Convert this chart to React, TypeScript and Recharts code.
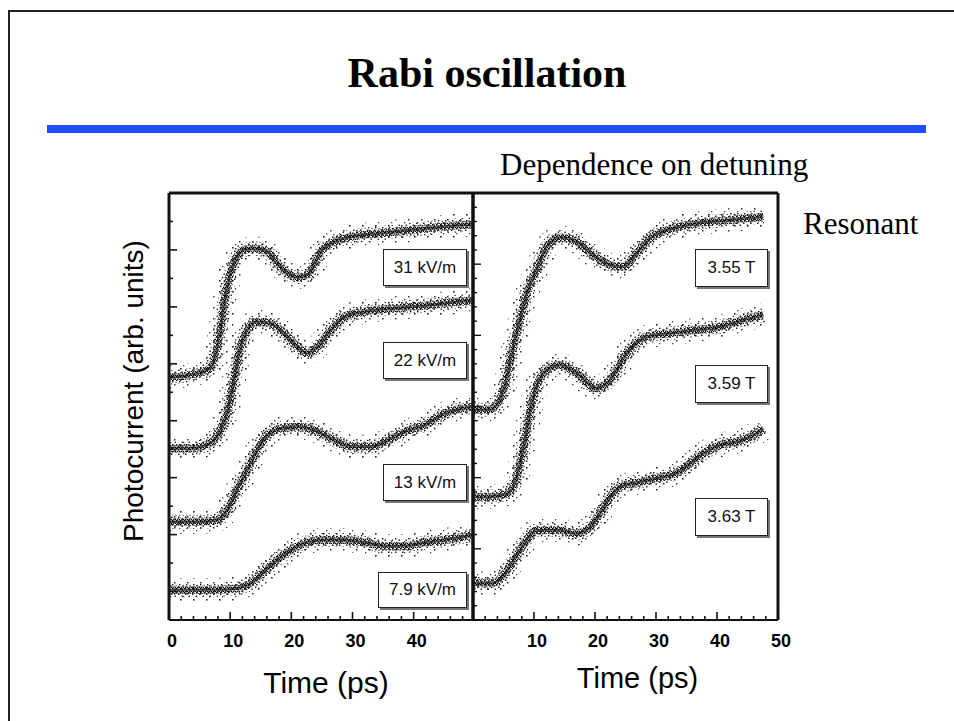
import React from 'react';
import { ComposedChart, Line, XAxis, YAxis } from 'recharts';

// ---------- data (time in ps, photocurrent in arb. units) ----------
const leftTicksX = [0, 2, 4, 6, 8, 10, 12, 14, 16, 18, 20, 22, 24, 26, 28, 30, 32, 34, 36, 38, 40, 42, 44, 46, 48];
const rightTicksX = [0, 2, 4, 6, 8, 10, 12, 14, 16, 18, 20, 22, 24, 26, 28, 30, 32, 34, 36, 38, 40, 42, 44, 46, 48, 50];
const leftLabelsX = [0, 10, 20, 30, 40];
const rightLabelsX = [10, 20, 30, 40, 50];
const leftTicksY = [1, 2, 3, 4, 5, 6, 7, 8, 9, 10, 11, 12, 13, 14];
const rightTicksY = [0.5, 1, 1.5, 2, 2.5, 3, 3.5, 4, 4.5, 5, 5.5, 6, 6.5, 7, 7.5, 8, 8.5, 9, 9.5, 10, 10.5, 11, 11.5, 12, 12.5, 13, 13.5, 14, 14.5];

const trace31kV = [
  { t: 0, v: 8.52 }, { t: 3.5, v: 8.61 }, { t: 6.7, v: 8.84 }, { t: 8.4, v: 10.19 }, { t: 9.2, v: 11.36 },
  { t: 10.0, v: 12.18 }, { t: 11.1, v: 12.76 }, { t: 12.2, v: 13.0 }, { t: 13.9, v: 13.05 }, { t: 16.1, v: 12.94 },
  { t: 17.7, v: 12.53 }, { t: 19.4, v: 12.18 }, { t: 21.0, v: 12.04 }, { t: 22.6, v: 12.12 }, { t: 23.7, v: 12.47 },
  { t: 24.8, v: 12.94 }, { t: 26.5, v: 13.23 }, { t: 28.7, v: 13.41 }, { t: 31.4, v: 13.52 }, { t: 34.2, v: 13.58 },
  { t: 39.6, v: 13.7 }, { t: 45.1, v: 13.82 }, { t: 49.6, v: 13.9 },
];
const trace22kV = [
  { t: 0, v: 6.03 }, { t: 3.5, v: 6.03 }, { t: 6.7, v: 6.21 }, { t: 8.4, v: 6.67 }, { t: 9.5, v: 7.26 },
  { t: 10.6, v: 8.43 }, { t: 11.7, v: 9.6 }, { t: 12.8, v: 10.19 }, { t: 14.4, v: 10.48 }, { t: 16.6, v: 10.42 },
  { t: 18.8, v: 10.07 }, { t: 21.0, v: 9.6 }, { t: 22.6, v: 9.37 }, { t: 24.3, v: 9.6 }, { t: 26.5, v: 10.19 },
  { t: 28.7, v: 10.65 }, { t: 32.0, v: 10.83 }, { t: 36.9, v: 10.95 }, { t: 42.4, v: 11.06 }, { t: 49.6, v: 11.24 },
];
const trace13kV = [
  { t: 0, v: 3.45 }, { t: 4.6, v: 3.45 }, { t: 7.8, v: 3.51 }, { t: 9.5, v: 3.86 }, { t: 11.1, v: 4.57 },
  { t: 12.8, v: 5.27 }, { t: 14.4, v: 5.97 }, { t: 16.1, v: 6.5 }, { t: 18.3, v: 6.73 }, { t: 21.0, v: 6.79 },
  { t: 23.7, v: 6.67 }, { t: 26.5, v: 6.38 }, { t: 29.8, v: 6.09 }, { t: 33.1, v: 6.09 }, { t: 35.8, v: 6.32 },
  { t: 38.5, v: 6.61 }, { t: 41.8, v: 6.85 }, { t: 45.1, v: 7.26 }, { t: 49.6, v: 7.49 },
];
const trace7_9kV = [
  { t: 0, v: 1.05 }, { t: 6.7, v: 1.05 }, { t: 11.1, v: 1.11 }, { t: 13.3, v: 1.29 }, { t: 15.5, v: 1.7 },
  { t: 17.7, v: 2.11 }, { t: 19.9, v: 2.46 }, { t: 22.1, v: 2.69 }, { t: 24.8, v: 2.81 }, { t: 28.7, v: 2.81 },
  { t: 32.0, v: 2.72 }, { t: 35.3, v: 2.6 }, { t: 38.5, v: 2.6 }, { t: 41.8, v: 2.72 }, { t: 45.1, v: 2.81 },
  { t: 49.6, v: 2.99 },
];
const trace355T = [
  { t: 0, v: 7.38 }, { t: 2.8, v: 7.4 }, { t: 5.0, v: 8.08 }, { t: 6.6, v: 9.6 }, { t: 7.7, v: 10.54 },
  { t: 8.8, v: 11.47 }, { t: 10.4, v: 12.29 }, { t: 12.1, v: 13.11 }, { t: 14.3, v: 13.44 }, { t: 17.0, v: 13.29 },
  { t: 19.7, v: 12.82 }, { t: 22.5, v: 12.47 }, { t: 24.6, v: 12.41 }, { t: 26.8, v: 12.88 }, { t: 29.0, v: 13.41 },
  { t: 31.8, v: 13.7 }, { t: 35.0, v: 13.87 }, { t: 38.9, v: 13.99 }, { t: 43.2, v: 14.07 }, { t: 47.6, v: 14.17 },
];
const trace359T = [
  { t: 0, v: 4.33 }, { t: 2.8, v: 4.33 }, { t: 5.5, v: 4.43 }, { t: 7.2, v: 5.03 }, { t: 8.3, v: 6.09 },
  { t: 9.3, v: 7.26 }, { t: 10.4, v: 8.2 }, { t: 12.1, v: 8.78 }, { t: 14.3, v: 8.96 }, { t: 17.0, v: 8.67 },
  { t: 20.3, v: 8.14 }, { t: 22.5, v: 8.43 }, { t: 25.2, v: 9.37 }, { t: 28.5, v: 9.95 }, { t: 32.3, v: 10.07 },
  { t: 36.7, v: 10.19 }, { t: 40.5, v: 10.3 }, { t: 44.3, v: 10.54 }, { t: 47.6, v: 10.71 },
];
const trace363T = [
  { t: 0, v: 1.29 }, { t: 3.3, v: 1.29 }, { t: 5.0, v: 1.58 }, { t: 7.2, v: 2.28 }, { t: 8.8, v: 2.81 },
  { t: 10.4, v: 3.14 }, { t: 13.7, v: 3.16 }, { t: 17.0, v: 3.04 }, { t: 19.2, v: 3.26 }, { t: 20.8, v: 3.75 },
  { t: 22.5, v: 4.33 }, { t: 24.1, v: 4.68 }, { t: 26.8, v: 4.82 }, { t: 30.1, v: 4.98 }, { t: 33.4, v: 5.17 },
  { t: 35.6, v: 5.5 }, { t: 37.8, v: 5.85 }, { t: 40.5, v: 6.15 }, { t: 43.2, v: 6.26 }, { t: 46.0, v: 6.5 },
  { t: 47.6, v: 6.73 },
];

const leftSeries = [trace31kV, trace22kV, trace13kV, trace7_9kV];
const rightSeries = [trace355T, trace359T, trace363T];
const leftBoxLabels = ['31 kV/m', '22 kV/m', '13 kV/m', '7.9 kV/m'];
const rightBoxLabels = ['3.55 T', '3.59 T', '3.63 T'];

// ---------- styles ----------
const SANS = "'Liberation Sans', Arial, Helvetica, sans-serif";
const SERIF = "'Liberation Serif', 'Times New Roman', serif";
const INK = '#111';

const leftBoxes = [
  { x: 383, y: 249, w: 84, h: 37 },
  { x: 383, y: 342, w: 84, h: 37 },
  { x: 383, y: 464, w: 84, h: 37 },
  { x: 378, y: 572, w: 89, h: 36 },
];
const rightBoxes = [
  { x: 695, y: 249, w: 73, h: 38 },
  { x: 695, y: 365, w: 73, h: 38 },
  { x: 695, y: 498, w: 73, h: 38 },
];

const makeXTick = (labels: number[]) => (props: any) => {
  const { x, y, payload } = props;
  const v = payload.value;
  const major = v % 10 === 0;
  return (
    <g>
      <line x1={x} x2={x} y1={y} y2={y - (major ? 8 : 4)} stroke={INK} strokeWidth={1.6} />
      {labels.includes(v) && (
        <text x={x + 3} y={y + 27} textAnchor="middle" fontSize={18} fontWeight="bold" fontFamily={SANS} fill="#000">
          {v}
        </text>
      )}
    </g>
  );
};

const LeftYTick = (props: any) => {
  const { x, y, payload } = props;
  const major = payload.value % 2 === 1;
  return <line x1={x} x2={x + (major ? 8 : 4)} y1={y} y2={y} stroke={INK} strokeWidth={1.6} />;
};

const RightPanelYTick = (props: any) => {
  const { x, y, payload } = props;
  const major = payload.value % 2.5 === 0;
  return <line x1={x} x2={x + (major ? 8 : 4)} y1={y} y2={y} stroke={INK} strokeWidth={1.4} />;
};

const Defs = ({ p }: { p: string }) => (
  <defs>
    <pattern id={`${p}-dense`} width="4" height="4" patternUnits="userSpaceOnUse">
      <rect x="0" y="0" width="1.6" height="1.6" fill="#000" />
      <rect x="2" y="1.2" width="1.4" height="1.4" fill="#111" />
      <rect x="0.8" y="2.6" width="1.4" height="1.4" fill="#222" />
      <rect x="2.8" y="3" width="1.2" height="1" fill="#000" />
    </pattern>
    <pattern id={`${p}-sparse`} width="7" height="7" patternUnits="userSpaceOnUse">
      <rect x="1" y="0.5" width="1.5" height="1.5" fill="#222" />
      <rect x="4.5" y="2.5" width="1.5" height="1.5" fill="#333" />
      <rect x="2" y="5" width="1.4" height="1.4" fill="#111" />
      <rect x="5.5" y="5.8" width="1.2" height="1.2" fill="#444" />
    </pattern>
    <pattern id={`${p}-halo`} width="13" height="11" patternUnits="userSpaceOnUse">
      <rect x="2" y="1" width="1.6" height="1.6" fill="#222" />
      <rect x="9" y="6" width="1.5" height="1.5" fill="#333" />
      <rect x="5" y="9" width="1.3" height="1.3" fill="#444" />
    </pattern>
  </defs>
);

const renderTraceLayers = (series: { t: number; v: number }[][], p: string) =>
  series.flatMap((d, i) => [
    <Line key={`${p}-h${i}`} xAxisId="b" yAxisId="l" data={d} dataKey="v" type="monotone" dot={false}
      activeDot={false} stroke={`url(#${p}-halo)`} strokeWidth={24} isAnimationActive={false} />,
    <Line key={`${p}-s${i}`} xAxisId="b" yAxisId="l" data={d} dataKey="v" type="monotone" dot={false}
      activeDot={false} stroke={`url(#${p}-sparse)`} strokeWidth={14} isAnimationActive={false} />,
    <Line key={`${p}-d${i}`} xAxisId="b" yAxisId="l" data={d} dataKey="v" type="monotone" dot={false}
      activeDot={false} stroke={`url(#${p}-dense)`} strokeWidth={8} isAnimationActive={false} />,
    <Line key={`${p}-c${i}`} xAxisId="b" yAxisId="l" data={d} dataKey="v" type="monotone" dot={false}
      activeDot={false} stroke="#000" strokeOpacity={0.5} strokeWidth={3} isAnimationActive={false} />,
  ]);

const Box = ({ b, text }: { b: { x: number; y: number; w: number; h: number }; text: string }) => (
  <div
    style={{
      position: 'absolute', left: b.x, top: b.y, width: b.w, height: b.h, boxSizing: 'border-box',
      border: '1.5px solid #222', background: '#fff', boxShadow: '2px 2px 0 #777',
      display: 'flex', alignItems: 'center', justifyContent: 'center',
      fontFamily: SANS, fontSize: 17, color: '#111',
    }}
  >
    {text}
  </div>
);

const frameLine = { stroke: INK, strokeWidth: 3 };

export default function App() {
  return (
    <div style={{ position: 'absolute', left: 0, top: 0, width: 954, height: 721, overflow: 'hidden', background: '#fff' }}>
      {/* slide frame */}
      <div style={{ position: 'absolute', left: 8, top: 10, width: 960, height: 730, borderTop: '2px solid #222', borderLeft: '2px solid #222' }} />
      {/* title */}
      <div style={{ position: 'absolute', left: 0, width: 974, top: 48, textAlign: 'center', fontFamily: SERIF, fontWeight: 'bold', fontSize: 42, lineHeight: '50px', color: '#000' }}>
        Rabi oscillation
      </div>
      <div style={{ position: 'absolute', left: 47, top: 125, width: 879, height: 8, background: '#1f4cff' }} />
      <div style={{ position: 'absolute', left: 500, top: 147, fontFamily: SERIF, fontSize: 31, lineHeight: '36px', color: '#000', whiteSpace: 'nowrap' }}>
        Dependence on detuning
      </div>
      <div style={{ position: 'absolute', left: 803, top: 206, fontFamily: SERIF, fontSize: 31, lineHeight: '36px', color: '#000', whiteSpace: 'nowrap' }}>
        Resonant
      </div>
      {/* y label */}
      <div style={{ position: 'absolute', left: 134 - 170, top: 391 - 17, width: 340, height: 34, lineHeight: '34px', textAlign: 'center', transform: 'rotate(-90deg)', fontFamily: SANS, fontSize: 28, color: '#000', whiteSpace: 'nowrap' }}>
        Photocurrent (arb. units)
      </div>

      {/* left panel: field dependence */}
      <div style={{ position: 'absolute', left: 100, top: 180 }}>
        <ComposedChart width={390} height={520} margin={{ top: 12, left: 59, right: 16, bottom: 0 }}>
          <Defs p="lp" />
          <XAxis xAxisId="b" type="number" dataKey="t" domain={[0, 49.7]} ticks={leftTicksX} interval={0}
            height={80} tickSize={0} tickMargin={0} tickLine={false} axisLine={{ stroke: INK, strokeWidth: 2 }}
            tick={makeXTick(leftLabelsX)} allowDataOverflow
            label={{ value: 'Time (ps)', position: 'insideBottom', offset: 7, dx: 5, fill: '#000', fontSize: 30, fontFamily: SANS }} />
          <XAxis xAxisId="top" orientation="top" type="number" domain={[0, 49.7]} height={1} tick={false}
            tickLine={false} axisLine={frameLine} />
          <YAxis yAxisId="l" type="number" domain={[0, 15]} ticks={leftTicksY} interval={0} width={10}
            tickSize={0} tickMargin={0} tickLine={false} axisLine={frameLine} tick={LeftYTick} />
          <YAxis yAxisId="r" orientation="right" type="number" domain={[0, 15]} width={1} tick={false}
            tickLine={false} axisLine={frameLine} />
          {renderTraceLayers(leftSeries, 'lp')}
        </ComposedChart>
      </div>

      {/* right panel: detuning dependence */}
      <div style={{ position: 'absolute', left: 420, top: 180 }}>
        <ComposedChart width={400} height={520} margin={{ top: 12, left: 43, right: 41, bottom: 0 }}>
          <Defs p="rp" />
          <XAxis xAxisId="b" type="number" dataKey="t" domain={[0, 50]} ticks={rightTicksX} interval={0}
            height={80} tickSize={0} tickMargin={0} tickLine={false} axisLine={{ stroke: INK, strokeWidth: 2 }}
            tick={makeXTick(rightLabelsX)} allowDataOverflow
            label={{ value: 'Time (ps)', position: 'insideBottom', offset: 12, dx: 12, fill: '#000', fontSize: 29, fontFamily: SANS }} />
          <XAxis xAxisId="top" orientation="top" type="number" domain={[0, 50]} height={1} tick={false}
            tickLine={false} axisLine={frameLine} />
          <YAxis yAxisId="l" type="number" domain={[0, 15]} ticks={rightTicksY} interval={0} width={10}
            tickSize={0} tickMargin={0} tickLine={false} axisLine={frameLine} tick={RightPanelYTick} />
          <YAxis yAxisId="r" orientation="right" type="number" domain={[0, 15]} width={1} tick={false}
            tickLine={false} axisLine={frameLine} />
          {renderTraceLayers(rightSeries, 'rp')}
        </ComposedChart>
      </div>

      {leftBoxes.map((b, i) => <Box key={`lb${i}`} b={b} text={leftBoxLabels[i]} />)}
      {rightBoxes.map((b, i) => <Box key={`rb${i}`} b={b} text={rightBoxLabels[i]} />)}
    </div>
  );
}
